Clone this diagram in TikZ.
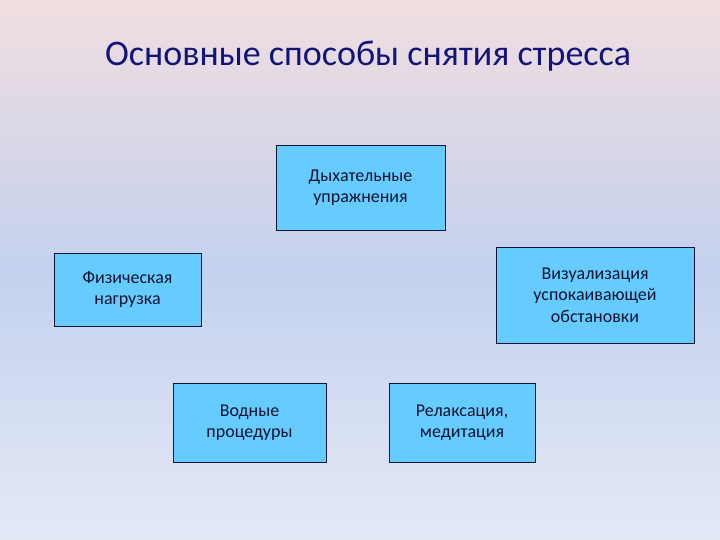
\documentclass[tikz,border=0pt]{standalone}
\usepackage{fontspec}
\setmainfont{Carlito}
\usepackage{tikz}
\usepackage{xcolor}

\definecolor{bgtop}{RGB}{240,222,224}
\definecolor{bgmid}{RGB}{196,209,238}
\definecolor{bgbot}{RGB}{228,233,246}
\definecolor{boxfill}{RGB}{102,204,255}
\definecolor{boxline}{RGB}{12,20,48}
\definecolor{titlecol}{RGB}{20,20,120}

\begin{document}
\begin{tikzpicture}[x=1pt,y=-1pt,
  way/.style={draw=boxline, line width=0.9pt, fill=boxfill, align=center,
    text=boxline, font=\fontsize{18}{21.5}\selectfont, inner sep=0pt}]
  \useasboundingbox (0,0) rectangle (720,540);
  % background, upper and lower half
  \begin{scope}[y=1pt]
    \shade[top color=bgtop, bottom color=bgmid] (0,-270) rectangle (720,0);
    \shade[top color=bgmid, bottom color=bgbot] (0,-540) rectangle (720,-269.5);
  \end{scope}

\node[text=titlecol, font=\fontsize{36}{42}\selectfont] (title) at (368,56) {Основные способы снятия стресса};

\node[way, minimum width=169pt, minimum height=85pt] (breath) at (360.5,187.5) {Дыхательные\\ упражнения};

\node[way, minimum width=147pt, minimum height=73pt] (sport) at (127.5,289.5) {Физическая\\ нагрузка};

\node[way, minimum width=198pt, minimum height=96pt] (visual) at (595,295) {Визуализация\\ успокаивающей\\ обстановки};

\node[way, minimum width=153pt, minimum height=79pt] (water) at (249.5,422.5) {Водные\\ процедуры};

\node[way, minimum width=146pt, minimum height=79pt] (relax) at (462,422.5) {Релаксация,\\ медитация};
\end{tikzpicture}
\end{document}
